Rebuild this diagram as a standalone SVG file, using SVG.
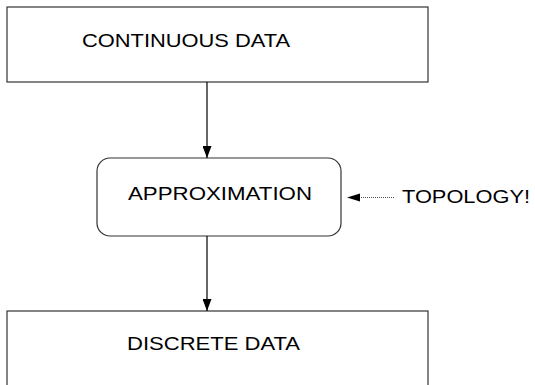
<svg xmlns="http://www.w3.org/2000/svg" width="535" height="385" viewBox="0 0 535 385">
<style>
.box{fill:#fff;stroke:#333;stroke-width:1.2}
.lbl{font-family:"Liberation Sans",Arial,sans-serif;font-size:18px;fill:#000}
.con{stroke:#000;stroke-width:1.2;fill:none}
.dot{stroke:#555;stroke-width:1;stroke-dasharray:1 1;fill:none}
</style>
<defs>
<marker id="ah" markerWidth="9" markerHeight="12" refX="4.5" refY="12" viewBox="0 0 9 12" markerUnits="userSpaceOnUse" orient="0">
<path d="M0,0 L9,0 L4.5,12 Z" fill="#000"/>
</marker>
</defs>
<rect width="535" height="385" fill="#fff"/>
<g id="continuous">
<rect class="box" x="7" y="7" width="421" height="75"/>
<text class="lbl" x="82" y="47" textLength="208" lengthAdjust="spacingAndGlyphs">CONTINUOUS DATA</text>
</g>
<g id="approximation">
<rect class="box" x="97" y="158" width="244" height="78" rx="13" ry="13"/>
<text class="lbl" x="128" y="200" textLength="184" lengthAdjust="spacingAndGlyphs">APPROXIMATION</text>
</g>
<g id="topology">
<text class="lbl" x="402" y="203" textLength="128" lengthAdjust="spacingAndGlyphs">TOPOLOGY!</text>
</g>
<g id="discrete">
<rect class="box" x="7" y="311" width="421" height="80"/>
<text class="lbl" x="127" y="350" textLength="173" lengthAdjust="spacingAndGlyphs">DISCRETE DATA</text>
</g>
<g id="connectors">
<line class="con" x1="207" y1="82" x2="207" y2="158" marker-end="url(#ah)"/>
<line class="con" x1="207" y1="236" x2="207" y2="311" marker-end="url(#ah)"/>
<line class="dot" x1="394" y1="197.5" x2="358" y2="197.5"/>
<path d="M347,197.5 L360,193.5 L360,201.5 Z" fill="#000"/>
</g>
</svg>
